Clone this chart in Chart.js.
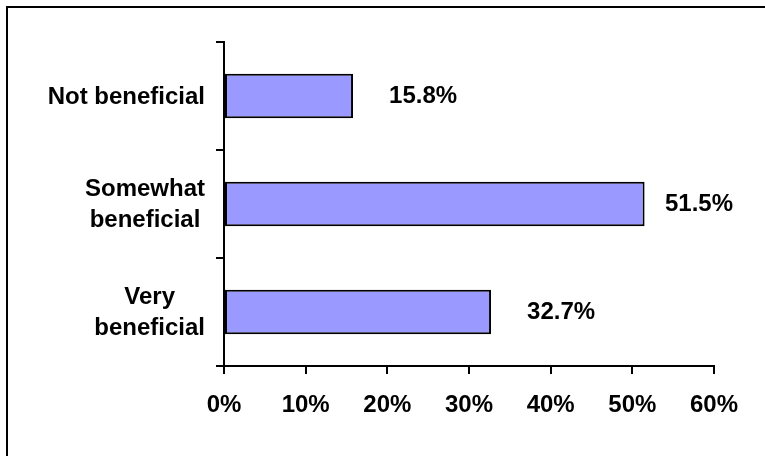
<!DOCTYPE html>
<html>
<head>
<meta charset="utf-8">
<script src="https://cdn.jsdelivr.net/npm/chart.js@4/dist/chart.umd.min.js"></script>
<style>
  html, body { margin: 0; padding: 0; background: #fff; }
  #wrap { width: 765px; height: 456px; position: relative; }
</style>
</head>
<body>
<div id="wrap"><canvas id="c" width="765" height="456"></canvas></div>
<script>
// Survey answers, top to bottom
const categories = ['Not beneficial', 'Somewhat beneficial', 'Very beneficial'];
// Share of respondents, percent
const shares = [15.8, 51.5, 32.7];
// Percent axis
const axisMin = 0;
const axisMax = 60;
const axisStep = 10;

const FONT = "'Liberation Sans', Arial, Helvetica, sans-serif";

// Category names split into centered lines
const categoryLines = {
  'Not beneficial': ['Not beneficial'],
  'Somewhat beneficial': ['Somewhat', 'beneficial'],
  'Very beneficial': ['Very', 'beneficial']
};

const framePlugin = {
  id: 'frame',
  beforeDraw(chart) {
    const ctx = chart.ctx;
    ctx.save();
    ctx.fillStyle = '#ffffff';
    ctx.fillRect(0, 0, chart.width, chart.height);
    ctx.strokeStyle = '#000';
    ctx.lineWidth = 2;
    ctx.strokeRect(7, 7, chart.width + 20, chart.height + 20);
    ctx.restore();
  }
};

const categoryLabelPlugin = {
  id: 'categoryLabels',
  afterDraw(chart) {
    const ctx = chart.ctx;
    const y = chart.scales.y;
    const rightEdge = y.right - 19;
    ctx.save();
    ctx.font = 'bold 24px ' + FONT;
    ctx.fillStyle = '#000';
    ctx.textAlign = 'center';
    ctx.textBaseline = 'alphabetic';
    categories.forEach((name, i) => {
      const lines = categoryLines[name] || [name];
      const maxW = Math.max(...lines.map(l => ctx.measureText(l).width));
      const cx = rightEdge - maxW / 2;
      const cy = y.getPixelForValue(i) - 1;
      lines.forEach((line, j) => {
        const mid = cy + (j - (lines.length - 1) / 2) * 31;
        ctx.fillText(line, cx, mid + 8.6);
      });
    });
    ctx.restore();
  }
};

const valueLabelPlugin = {
  id: 'valueLabels',
  afterDatasetsDraw(chart) {
    const ctx = chart.ctx;
    const meta = chart.getDatasetMeta(0);
    ctx.save();
    ctx.font = 'bold 24px ' + FONT;
    ctx.fillStyle = '#000';
    ctx.textAlign = 'left';
    ctx.textBaseline = 'alphabetic';
    meta.data.forEach((bar, i) => {
      const text = shares[i].toFixed(1) + '%';
      const w = ctx.measureText(text).width;
      let x = bar.x + 36;
      if (x + w > 733) x = 733 - w;
      ctx.fillText(text, x, bar.y - 2 + 8.6);
    });
    ctx.restore();
  }
};

new Chart(document.getElementById('c'), {
  type: 'bar',
  data: {
    labels: categories,
    datasets: [{
      data: shares,
      backgroundColor: '#9999FF',
      borderColor: '#000000',
      borderWidth: 2,
      borderSkipped: false,
      categoryPercentage: 1,
      barPercentage: 0.41
    }]
  },
  options: {
    indexAxis: 'y',
    responsive: false,
    animation: false,
    devicePixelRatio: 1,
    layout: { padding: { left: 0, top: 42, right: 51, bottom: 0 } },
    plugins: {
      legend: { display: false },
      tooltip: { enabled: false }
    },
    scales: {
      x: {
        type: 'linear',
        min: axisMin,
        max: axisMax,
        ticks: {
          stepSize: axisStep,
          callback: v => v + '%',
          color: '#000',
          font: { family: FONT, size: 24, weight: 'bold' },
          padding: 17,
          maxRotation: 0
        },
        grid: {
          drawOnChartArea: false,
          drawTicks: true,
          tickLength: 8,
          color: '#000',
          lineWidth: 2
        },
        border: { display: true, color: '#000', width: 2 },
        afterFit(scale) { scale.height = 90; }
      },
      y: {
        type: 'category',
        offset: true,
        ticks: { display: false },
        grid: {
          offset: true,
          drawOnChartArea: false,
          drawTicks: true,
          tickLength: 8,
          color: '#000',
          lineWidth: 2
        },
        border: { display: true, color: '#000', width: 2 },
        afterFit(scale) { scale.width = 224; }
      }
    }
  },
  plugins: [framePlugin, categoryLabelPlugin, valueLabelPlugin]
});
</script>
</body>
</html>
